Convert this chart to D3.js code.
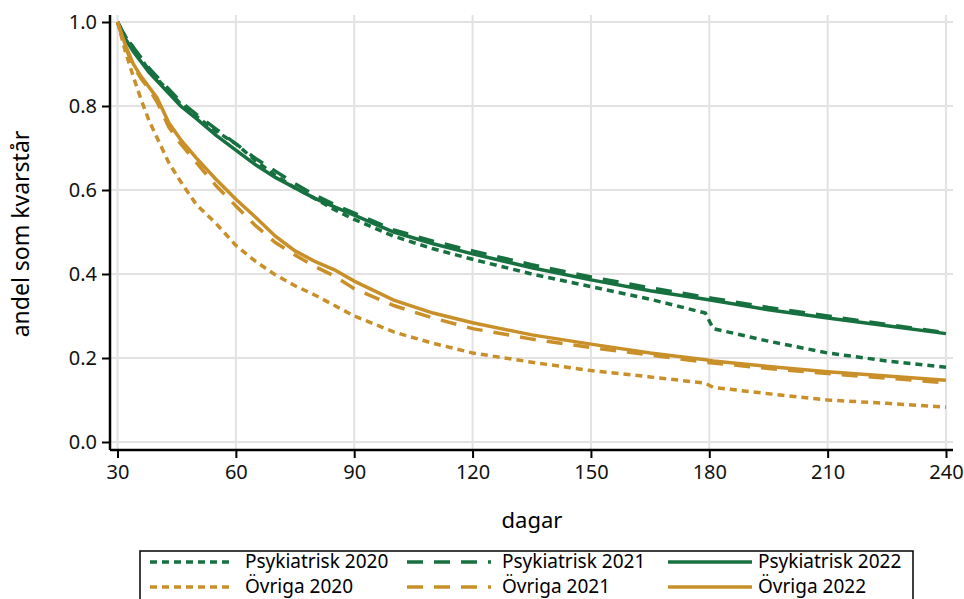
<html>
<head>
    <title>Andel som kvarstår</title>
    <script src="https://d3js.org/d3.v7.min.js"></script>
    <style>
        body { margin: 0; background: white; font-family: "Noto Sans", sans-serif; }
        svg { display: block; }
    </style>
</head>
<body>
    <svg id="chart" width="964" height="599"></svg>

    <script>
        // days and remaining share per series
        const days = [30, 32, 34, 36, 38, 40, 43, 46, 50, 55, 60, 65, 70, 75, 80, 85, 90, 100, 110, 120, 135, 150, 165, 179, 181, 195, 210, 225, 240];

        const psyk2020 = [1.0, 0.965, 0.94, 0.912, 0.885, 0.865, 0.835, 0.805, 0.775, 0.74, 0.71, 0.67, 0.635, 0.605, 0.58, 0.553, 0.53, 0.49, 0.46, 0.435, 0.40, 0.37, 0.34, 0.307, 0.27, 0.24, 0.212, 0.193, 0.178];
        const psyk2021 = [1.0, 0.965, 0.94, 0.915, 0.89, 0.87, 0.84, 0.81, 0.78, 0.745, 0.71, 0.675, 0.645, 0.615, 0.588, 0.565, 0.545, 0.505, 0.478, 0.455, 0.422, 0.393, 0.367, 0.345, 0.342, 0.32, 0.30, 0.28, 0.26];
        const psyk2022 = [1.0, 0.96, 0.93, 0.905, 0.88, 0.86, 0.83, 0.80, 0.77, 0.73, 0.695, 0.66, 0.63, 0.605, 0.58, 0.56, 0.54, 0.50, 0.472, 0.448, 0.415, 0.386, 0.36, 0.34, 0.337, 0.315, 0.295, 0.277, 0.258];
        const ovr2020 = [1.0, 0.93, 0.87, 0.815, 0.765, 0.725, 0.665, 0.62, 0.565, 0.52, 0.468, 0.43, 0.398, 0.372, 0.35, 0.325, 0.30, 0.262, 0.235, 0.212, 0.19, 0.17, 0.155, 0.14, 0.13, 0.115, 0.10, 0.092, 0.083];
        const ovr2021 = [1.0, 0.94, 0.895, 0.865, 0.84, 0.81, 0.75, 0.71, 0.665, 0.61, 0.562, 0.515, 0.475, 0.445, 0.418, 0.395, 0.365, 0.325, 0.295, 0.27, 0.245, 0.225, 0.207, 0.19, 0.188, 0.175, 0.163, 0.152, 0.141];
        const ovr2022 = [1.0, 0.945, 0.90, 0.87, 0.845, 0.82, 0.76, 0.72, 0.676, 0.625, 0.578, 0.535, 0.49, 0.455, 0.43, 0.41, 0.383, 0.338, 0.307, 0.284, 0.255, 0.233, 0.212, 0.196, 0.193, 0.18, 0.167, 0.157, 0.147];

        const xTicks = [30, 60, 90, 120, 150, 180, 210, 240];
        const yTicks = [0, 0.2, 0.4, 0.6, 0.8, 1.0];

        const green = "#17703f";
        const gold = "#c9902a";
        const dotted = "7,5";
        const dashed = "16,11";

        const series = [
            { name: "Psykiatrisk 2020", values: psyk2020, color: green, dash: dotted },
            { name: "Psykiatrisk 2021", values: psyk2021, color: green, dash: dashed },
            { name: "Psykiatrisk 2022", values: psyk2022, color: green, dash: null },
            { name: "Övriga 2020", values: ovr2020, color: gold, dash: dotted },
            { name: "Övriga 2021", values: ovr2021, color: gold, dash: dashed },
            { name: "Övriga 2022", values: ovr2022, color: gold, dash: null }
        ];

        const svg = d3.select("#chart");

        const plotL = 110, plotR = 953, plotT = 15, plotB = 450;

        const x = d3.scaleLinear().domain([30, 240]).range([117.5, 946]);
        const y = d3.scaleLinear().domain([0, 1]).range([442, 22]);

        // grid
        svg.append("g").selectAll("line")
            .data(xTicks).enter().append("line")
            .attr("x1", d => x(d)).attr("x2", d => x(d))
            .attr("y1", plotT).attr("y2", plotB)
            .attr("stroke", "#e2e2e2").attr("stroke-width", 2);
        svg.append("g").selectAll("line")
            .data(yTicks).enter().append("line")
            .attr("x1", plotL).attr("x2", plotR)
            .attr("y1", d => y(d)).attr("y2", d => y(d))
            .attr("stroke", "#e2e2e2").attr("stroke-width", 2);

        // curves
        const line = d3.line()
            .x(d => x(d[0]))
            .y(d => y(d[1]));

        svg.append("g").selectAll("path")
            .data(series).enter().append("path")
            .attr("d", s => line(days.map((d, i) => [d, s.values[i]])))
            .attr("fill", "none")
            .attr("stroke", s => s.color)
            .attr("stroke-width", 3.5)
            .attr("stroke-dasharray", s => s.dash);

        // axes
        const xAxis = svg.append("g")
            .attr("transform", "translate(0," + plotB + ")")
            .call(d3.axisBottom(x).tickValues(xTicks).tickSize(8).tickPadding(7).tickSizeOuter(0));
        xAxis.select(".domain").attr("d", "M" + plotL + ",0H" + plotR);

        const yAxis = svg.append("g")
            .attr("transform", "translate(" + plotL + ",0)")
            .call(d3.axisLeft(y).tickValues(yTicks).tickFormat(d3.format(".1f")).tickSize(8).tickPadding(5).tickSizeOuter(0));
        yAxis.select(".domain").attr("d", "M0," + plotT + "V" + plotB);

        svg.selectAll(".domain").attr("stroke", "black").attr("stroke-width", 2.5);
        svg.selectAll(".tick line").attr("stroke", "black").attr("stroke-width", 2);
        svg.selectAll(".tick text")
            .style("font-family", "'Noto Sans', sans-serif")
            .style("font-size", "20px")
            .attr("fill", "#111");

        // axis titles
        svg.append("text")
            .attr("x", 532).attr("y", 528)
            .attr("text-anchor", "middle")
            .style("font-size", "22px")
            .text("dagar");
        svg.append("text")
            .attr("transform", "translate(29,234) rotate(-90)")
            .attr("text-anchor", "middle")
            .style("font-size", "23px")
            .text("andel som kvarstår");

        // legend
        const legend = svg.append("g");
        legend.append("rect")
            .attr("x", 140).attr("y", 551)
            .attr("width", 773).attr("height", 70)
            .attr("fill", "white").attr("stroke", "black").attr("stroke-width", 1.5);

        const colX = [150, 407, 668];
        const rowY = [562, 587];
        series.forEach((s, i) => {
            const cx = colX[i % 3];
            const cy = rowY[Math.floor(i / 3)];
            legend.append("line")
                .attr("x1", cx).attr("x2", cx + 84)
                .attr("y1", cy).attr("y2", cy)
                .attr("stroke", s.color).attr("stroke-width", 3.5)
                .attr("stroke-dasharray", s.dash);
            legend.append("text")
                .attr("x", cx + (i % 3 === 2 ? 90 : 95)).attr("y", cy + 6)
                .style("font-size", "19px")
                .text(s.name);
        });
    </script>
</body>
</html>
